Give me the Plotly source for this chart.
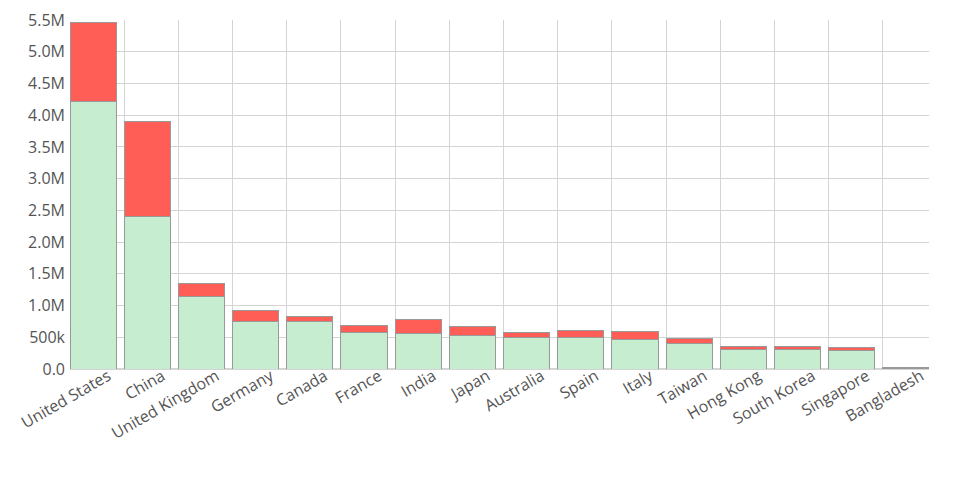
import plotly.graph_objects as go

countries = ["United States", "China", "United Kingdom", "Germany", "Canada", "France",
             "India", "Japan", "Australia", "Spain", "Italy", "Taiwan", "Hong Kong",
             "South Korea", "Singapore", "Bangladesh"]
green_vals = [4.208e6, 2.396e6, 1.150e6, 0.756e6, 0.741e6, 0.577e6, 0.556e6, 0.525e6,
              0.498e6, 0.493e6, 0.467e6, 0.403e6, 0.315e6, 0.304e6, 0.293e6, 0.012e6]
red_vals = [1.245e6, 1.497e6, 0.205e6, 0.163e6, 0.088e6, 0.116e6, 0.232e6, 0.137e6,
            0.085e6, 0.115e6, 0.121e6, 0.070e6, 0.041e6, 0.052e6, 0.043e6, 0.010e6]
ytick_vals = [0, 0.5e6, 1.0e6, 1.5e6, 2.0e6, 2.5e6, 3.0e6, 3.5e6, 4.0e6, 4.5e6, 5.0e6, 5.5e6]
ytick_text = ["0.0", "500k", "1.0M", "1.5M", "2.0M", "2.5M", "3.0M", "3.5M", "4.0M",
              "4.5M", "5.0M", "5.5M"]

FONT = "Open Sans"
border = dict(color="#999999", width=1)

fig = go.Figure()
fig.add_trace(go.Bar(x=countries, y=green_vals, marker=dict(color="#c6edcf", line=border),
                     width=0.85, offset=0, showlegend=False))
fig.add_trace(go.Bar(x=countries, y=red_vals, marker=dict(color="#ff5e57", line=border),
                     width=0.85, offset=0, showlegend=False))

fig.update_layout(
    barmode="stack",
    width=952, height=492,
    margin=dict(l=62, r=31, t=12, b=131),
    plot_bgcolor="white", paper_bgcolor="white",
    font=dict(family=FONT, size=16, color="#555555"),
    xaxis=dict(type="category", range=[0, len(countries) - 1 + 0.85], automargin=False,
               showgrid=True, gridcolor="#d4d4d4", gridwidth=1,
               tickangle=-30, ticklabelshift=38, ticklabelstandoff=-6, ticks="", zeroline=False,
               tickfont=dict(family=FONT, size=16, color="#555555")),
    yaxis=dict(range=[0, 5.5e6], tickvals=ytick_vals, ticktext=ytick_text, automargin=False,
               showgrid=True, gridcolor="#d4d4d4", gridwidth=1, zeroline=True,
               zerolinecolor="#d4d4d4", zerolinewidth=2, ticks="", ticklabelstandoff=4,
               tickfont=dict(family=FONT, size=16, color="#555555")),
)

fig.write_html("out.html")
